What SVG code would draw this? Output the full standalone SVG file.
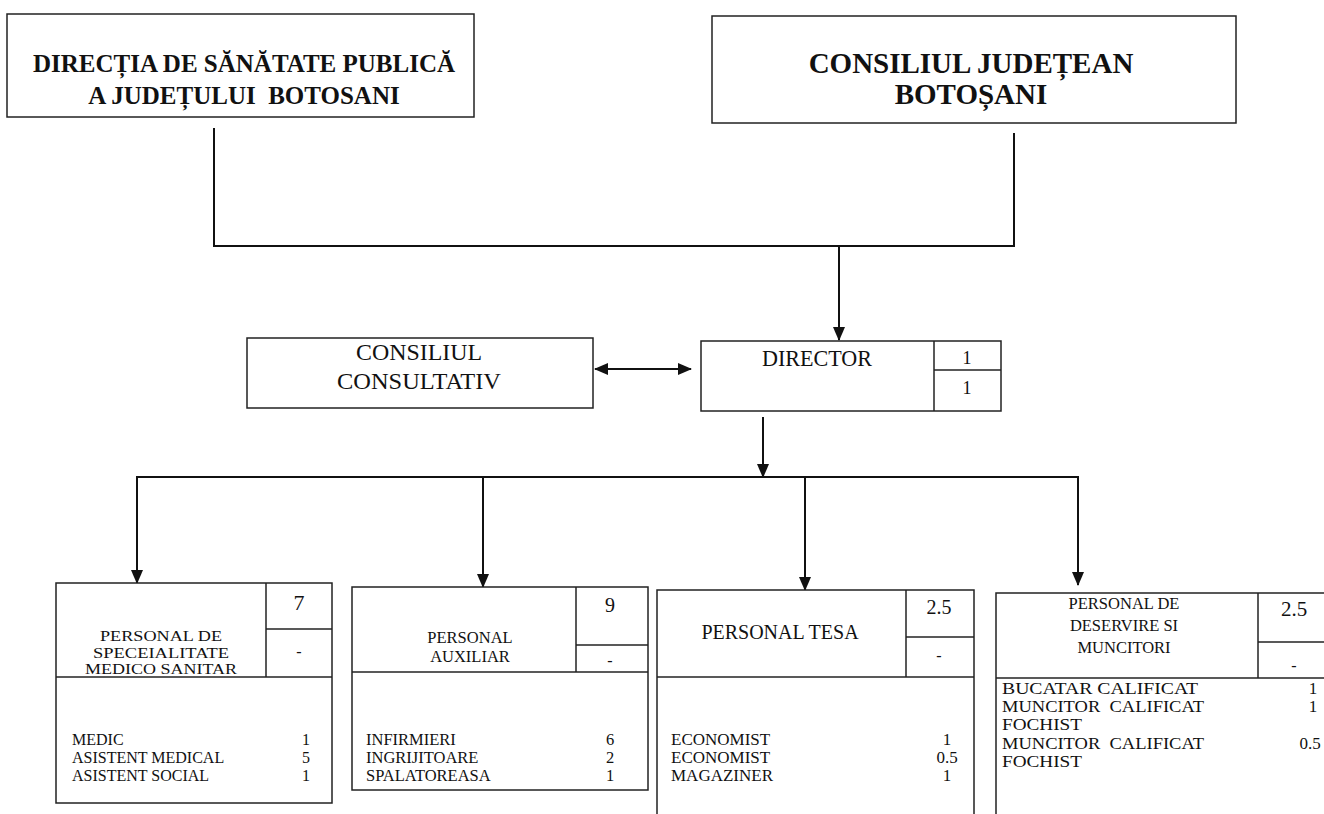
<svg xmlns="http://www.w3.org/2000/svg" width="1324" height="814" viewBox="0 0 1324 814" font-family="'Liberation Serif','Times New Roman',Tinos,'DejaVu Serif',serif">
<style>
.bx{fill:#fff;stroke:#222;stroke-width:1.5}
.ln{fill:none;stroke:#222;stroke-width:1.5}
.cn{fill:none;stroke:#111;stroke-width:2}
.t{font-family:"Liberation Serif","Times New Roman",Tinos,"DejaVu Serif",serif;fill:#111}
.h1{font-size:25px;font-weight:bold;text-anchor:middle}
.h2{font-size:29px;font-weight:bold;text-anchor:middle}
.m{font-size:24px;text-anchor:middle}
.c{text-anchor:middle}
</style>
<defs>
<marker id="ah" markerUnits="userSpaceOnUse" markerWidth="14" markerHeight="12" refX="13" refY="6" orient="auto-start-reverse" viewBox="0 0 14 12">
<path d="M0,0 L14,6 L0,12 z" fill="#111"/>
</marker>
</defs>
<rect width="1324" height="814" fill="#fff"/>

<g id="connectors">
<polyline class="cn" points="214,128 214,246 1014,246 1014,133"/>
<line class="cn" x1="839" y1="246" x2="839" y2="340" marker-end="url(#ah)"/>
<line class="cn" x1="595" y1="369" x2="691" y2="369" marker-start="url(#ah)" marker-end="url(#ah)"/>
<line class="cn" x1="763" y1="417" x2="763" y2="477" marker-end="url(#ah)"/>
<polyline class="cn" points="137,583 137,477 1078,477 1078,585" marker-start="url(#ah)" marker-end="url(#ah)"/>
<line class="cn" x1="483" y1="477" x2="483" y2="587" marker-end="url(#ah)"/>
<line class="cn" x1="805" y1="477" x2="805" y2="590" marker-end="url(#ah)"/>
</g>

<g id="dsp">
<rect class="bx" x="7" y="14" width="467" height="103"/>
<text class="t h1" x="244" y="72">DIRECȚIA DE SĂNĂTATE PUBLICĂ</text>
<text class="t h1" x="244" y="104" xml:space="preserve">A JUDEȚULUI  BOTOSANI</text>
</g>

<g id="cj">
<rect class="bx" x="712" y="16" width="524" height="107"/>
<text class="t h2" x="971" y="73">CONSILIUL JUDEȚEAN</text>
<text class="t h2" x="971" y="104">BOTOȘANI</text>
</g>

<g id="consiliul-consultativ">
<rect class="bx" x="247" y="338" width="346" height="70"/>
<text class="t m" x="419" y="360" textLength="126" lengthAdjust="spacingAndGlyphs">CONSILIUL</text>
<text class="t m" x="419" y="389" textLength="164" lengthAdjust="spacingAndGlyphs">CONSULTATIV</text>
</g>

<g id="director">
<rect class="bx" x="701" y="341" width="300" height="70"/>
<line class="ln" x1="934" y1="341" x2="934" y2="411"/>
<line class="ln" x1="934" y1="370" x2="1001" y2="370"/>
<text class="t m" x="817" y="366" textLength="110" lengthAdjust="spacingAndGlyphs">DIRECTOR</text>
<text class="t c" style="font-size:18px" x="967" y="364">1</text>
<text class="t c" style="font-size:18px" x="967" y="394">1</text>
</g>

<g id="personal-specialitate">
<rect class="bx" x="56" y="583" width="276" height="220"/>
<line class="ln" x1="56" y1="677" x2="332" y2="677"/>
<line class="ln" x1="266" y1="583" x2="266" y2="677"/>
<line class="ln" x1="266" y1="629" x2="332" y2="629"/>
<text class="t c" style="font-size:22px" x="299" y="610">7</text>
<text class="t c" style="font-size:16px" x="299" y="657">-</text>
<g class="t c" style="font-size:15.5px">
<text x="161" y="641" textLength="122" lengthAdjust="spacingAndGlyphs">PERSONAL DE</text>
<text x="161" y="658" textLength="136" lengthAdjust="spacingAndGlyphs">SPECEIALITATE</text>
<text x="161" y="674" textLength="152" lengthAdjust="spacingAndGlyphs">MEDICO SANITAR</text>
</g>
<g class="t" style="font-size:16px">
<text x="72" y="745">MEDIC</text>
<text x="72" y="763">ASISTENT MEDICAL</text>
<text x="72" y="781">ASISTENT SOCIAL</text>
<text class="c" x="306" y="745">1</text>
<text class="c" x="306" y="763">5</text>
<text class="c" x="306" y="781">1</text>
</g>
</g>

<g id="personal-auxiliar">
<rect class="bx" x="352" y="587" width="296" height="203"/>
<line class="ln" x1="352" y1="672" x2="648" y2="672"/>
<line class="ln" x1="576" y1="587" x2="576" y2="672"/>
<line class="ln" x1="576" y1="645" x2="648" y2="645"/>
<text class="t c" style="font-size:20px" x="610" y="612">9</text>
<text class="t c" style="font-size:16px" x="610" y="666">-</text>
<g class="t c" style="font-size:16.5px">
<text x="470" y="643">PERSONAL</text>
<text x="470" y="662">AUXILIAR</text>
</g>
<g class="t" style="font-size:16.5px">
<text x="366" y="745">INFIRMIERI</text>
<text x="366" y="763">INGRIJITOARE</text>
<text x="366" y="781">SPALATOREASA</text>
<text class="c" x="610" y="745">6</text>
<text class="c" x="610" y="763">2</text>
<text class="c" x="610" y="781">1</text>
</g>
</g>

<g id="personal-tesa">
<path class="bx" d="M657,830 V590 H974 V830"/>
<line class="ln" x1="657" y1="677" x2="974" y2="677"/>
<line class="ln" x1="906" y1="590" x2="906" y2="677"/>
<line class="ln" x1="906" y1="637" x2="974" y2="637"/>
<text class="t c" style="font-size:20px" x="939" y="614">2.5</text>
<text class="t c" style="font-size:16px" x="939" y="661">-</text>
<text class="t c" style="font-size:20px" x="780" y="639">PERSONAL TESA</text>
<g class="t" style="font-size:17px">
<text x="671" y="745">ECONOMIST</text>
<text x="671" y="763">ECONOMIST</text>
<text x="671" y="781">MAGAZINER</text>
<text class="c" x="947" y="745">1</text>
<text class="c" x="947" y="763">0.5</text>
<text class="c" x="947" y="781">1</text>
</g>
</g>

<g id="personal-deservire">
<path class="bx" d="M996,830 V593 H1340"/>
<line class="ln" x1="996" y1="678" x2="1330" y2="678"/>
<line class="ln" x1="1258" y1="593" x2="1258" y2="678"/>
<line class="ln" x1="1258" y1="642" x2="1330" y2="642"/>
<text class="t c" style="font-size:21px" x="1294" y="616">2.5</text>
<text class="t c" style="font-size:16px" x="1294" y="671">-</text>
<g class="t c" style="font-size:16.5px">
<text x="1124" y="609">PERSONAL DE</text>
<text x="1124" y="631">DESERVIRE SI</text>
<text x="1124" y="653">MUNCITORI</text>
</g>
<g class="t" style="font-size:17px">
<text x="1002" y="694" textLength="196" lengthAdjust="spacingAndGlyphs">BUCATAR CALIFICAT</text>
<text x="1002" y="712" textLength="202" lengthAdjust="spacingAndGlyphs" xml:space="preserve">MUNCITOR  CALIFICAT</text>
<text x="1002" y="730" textLength="80" lengthAdjust="spacingAndGlyphs">FOCHIST</text>
<text x="1002" y="749" textLength="202" lengthAdjust="spacingAndGlyphs" xml:space="preserve">MUNCITOR  CALIFICAT</text>
<text x="1002" y="767" textLength="80" lengthAdjust="spacingAndGlyphs">FOCHIST</text>
<text class="c" x="1313" y="694">1</text>
<text class="c" x="1313" y="712">1</text>
<text class="c" x="1310" y="749">0.5</text>
</g>
</g>
</svg>
